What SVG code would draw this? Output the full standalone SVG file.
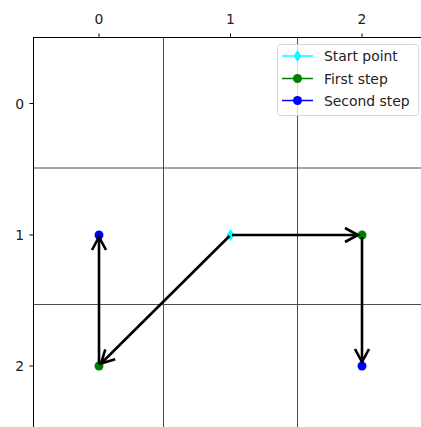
<svg xmlns="http://www.w3.org/2000/svg" width="421" height="427" viewBox="0 0 421 427">
<style>
.tick{font-family:"DejaVu Sans",sans-serif;font-size:13.9px;fill:#222}
.leg{font-family:"DejaVu Sans",sans-serif;font-size:13.9px;fill:#222}
.grid{stroke:#4d4d4d;stroke-width:1;fill:none}
.spine{stroke:#000;stroke-width:1;fill:none}
.arrow{stroke:#000;stroke-width:2.6;fill:none;marker-end:url(#head)}
</style>
<defs>
<marker id="head" markerUnits="userSpaceOnUse" markerWidth="20" markerHeight="20" refX="0" refY="0" viewBox="-16 -10 20 20" orient="auto" overflow="visible">
<path d="M-13,-7 L0,0 L-13,7" fill="none" stroke="#000" stroke-width="2.6" stroke-linejoin="miter"/>
</marker>
</defs>
<rect width="421" height="427" fill="#fff"/>
<g id="grid">
<line class="grid" x1="163.5" y1="37" x2="163.5" y2="427"/>
<line class="grid" x1="297.5" y1="37" x2="297.5" y2="427"/>
<line class="grid" x1="33" y1="168" x2="421" y2="168"/>
<line class="grid" x1="33" y1="304.5" x2="421" y2="304.5"/>
</g>
<g id="axes">
<line class="spine" x1="33" y1="37.5" x2="421" y2="37.5"/>
<line class="spine" x1="33.5" y1="37" x2="33.5" y2="427"/>
<line class="spine" x1="99" y1="33.5" x2="99" y2="37"/>
<line class="spine" x1="230.5" y1="33.5" x2="230.5" y2="37"/>
<line class="spine" x1="362" y1="33.5" x2="362" y2="37"/>
<line class="spine" x1="29.5" y1="103.5" x2="33" y2="103.5"/>
<line class="spine" x1="29.5" y1="235" x2="33" y2="235"/>
<line class="spine" x1="29.5" y1="366" x2="33" y2="366"/>
<text class="tick" x="99" y="24" text-anchor="middle">0</text>
<text class="tick" x="230.5" y="24" text-anchor="middle">1</text>
<text class="tick" x="362" y="24" text-anchor="middle">2</text>
<text class="tick" x="24" y="108.5" text-anchor="end">0</text>
<text class="tick" x="24" y="240" text-anchor="end">1</text>
<text class="tick" x="24" y="371" text-anchor="end">2</text>
</g>
<g id="start"><path d="M230.5,229 L234.5,235 L230.5,241 L226.5,235 Z" fill="#00ffff"/></g>
<g id="step1a"><circle cx="362" cy="235" r="4.5" fill="#008000"/></g>
<g id="step1b"><circle cx="99" cy="366" r="4.5" fill="#008000"/></g>
<g id="step2a"><circle cx="99" cy="235" r="4.5" fill="#0000ff"/></g>
<g id="step2b"><circle cx="362" cy="366" r="4.5" fill="#0000ff"/></g>
<g id="connectors">
<line class="arrow" x1="232" y1="235" x2="358" y2="235"/>
<line class="arrow" x1="362" y1="237" x2="362" y2="362"/>
<line class="arrow" x1="229.5" y1="236" x2="101" y2="363.5"/>
<line class="arrow" x1="99" y1="364" x2="99" y2="237"/>
</g>
<g id="legend">
<rect x="277.5" y="44.5" width="141" height="71" rx="3" fill="#fff" fill-opacity="0.8" stroke="#d6d6d6" stroke-width="1"/>
<line x1="282" y1="56" x2="313" y2="56" stroke="#00ffff" stroke-width="1.5"/>
<path d="M297.5,50 L301.5,56 L297.5,62 L293.5,56 Z" fill="#00ffff"/>
<text class="leg" x="324" y="61">Start point</text>
<line x1="282" y1="78.5" x2="313" y2="78.5" stroke="#008000" stroke-width="1.5"/>
<circle cx="297.5" cy="78.5" r="4.5" fill="#008000"/>
<text class="leg" x="324" y="83.5">First step</text>
<line x1="282" y1="100.5" x2="313" y2="100.5" stroke="#0000ff" stroke-width="1.5"/>
<circle cx="297.5" cy="100.5" r="4.5" fill="#0000ff"/>
<text class="leg" x="324" y="105.5">Second step</text>
</g>
</svg>
